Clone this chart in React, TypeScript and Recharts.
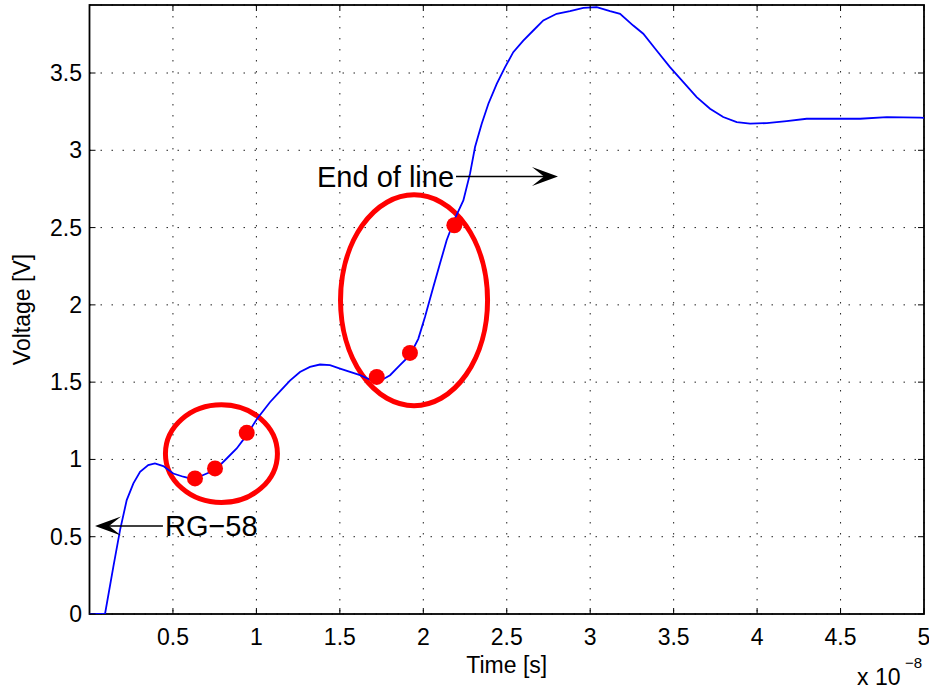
import { CartesianGrid, ComposedChart, Line, ReferenceArea, ReferenceDot, ReferenceLine, Scatter, XAxis, YAxis } from "recharts"

// time axis in units of 1e-8 s
const times = [
    0, 0.093, 0.143, 0.183, 0.223, 0.263, 0.303, 0.352, 0.392, 0.442, 0.502, 0.562, 0.622, 0.682, 0.752,
    0.822, 0.882, 0.942, 1.002, 1.081, 1.141, 1.201, 1.261, 1.321, 1.381, 1.441, 1.501, 1.561, 1.621, 1.681,
    1.741, 1.801, 1.86, 1.92, 1.97, 2.01, 2.06, 2.1, 2.14, 2.19, 2.24, 2.28, 2.31, 2.35, 2.39, 2.44, 2.49,
    2.539, 2.599, 2.659, 2.719, 2.799, 2.879, 2.959, 3.039, 3.119, 3.179, 3.258, 3.318, 3.398, 3.478, 3.558,
    3.638, 3.718, 3.797, 3.878, 3.958, 4.058, 4.177, 4.297, 4.457, 4.617, 4.777, 4.976, 5,
]
const volts = [
    0, 0, 0.306, 0.543, 0.737, 0.845, 0.92, 0.963, 0.974, 0.957, 0.909, 0.888, 0.871, 0.899, 0.931,
    1.006, 1.071, 1.157, 1.26, 1.37, 1.44, 1.51, 1.566, 1.599, 1.614, 1.61, 1.588, 1.566, 1.545, 1.517,
    1.508, 1.545, 1.61, 1.674, 1.78, 1.922, 2.116, 2.267, 2.418, 2.56, 2.676, 2.849, 3.021, 3.172, 3.301,
    3.43, 3.538, 3.635, 3.71, 3.775, 3.84, 3.883, 3.9, 3.922, 3.926, 3.9, 3.883, 3.807, 3.754, 3.646, 3.538,
    3.441, 3.344, 3.269, 3.215, 3.182, 3.172, 3.176, 3.189, 3.204, 3.204, 3.204, 3.215, 3.211, 3.21,
]

// highlighted samples
const dotTimes = [0.632, 0.752, 0.942, 1.721, 1.92, 2.186]
const dotVolts = [0.877, 0.942, 1.172, 1.534, 1.689, 2.515]

// ellipses as [t1, t2, v1, v2] bounding boxes
const ellipseBoxes = [
    [0.455, 1.126, 0.721, 1.354],
    [1.504, 2.385, 1.348, 2.712],
]

const xTicks = [0.5, 1, 1.5, 2, 2.5, 3, 3.5, 4, 4.5, 5]
const yTicks = [0, 0.5, 1, 1.5, 2, 2.5, 3, 3.5]
const xMax = 5
const yMax = 3.94

const FONT = "'Liberation Sans', Arial, Helvetica, sans-serif"
const W = 929
const H = 690
const M = { top: 5, right: 5, bottom: 0, left: 0 }
const Y_AXIS_W = 89.5
const X_AXIS_H = 76
const PLOT_W = W - M.left - M.right - Y_AXIS_W
const PLOT_H = H - M.top - M.bottom - X_AXIS_H
const X_MARGIN = 14.7
const Y_MARGIN = 7.5
const TICK = 6

const curve = times.map((t, i) => ({ t, v: volts[i] }))
const dots = dotTimes.map((t, i) => ({ t, v: dotVolts[i] }))

function XTick(props: any) {
    const { x, y, payload } = props
    const base = y - X_MARGIN
    return (
        <g>
            <line x1={x} x2={x} y1={base} y2={base - TICK} stroke="#000" />
            <line x1={x} x2={x} y1={base - PLOT_H} y2={base - PLOT_H + TICK} stroke="#000" />
            <text x={x} y={y} dy="0.71em" textAnchor="middle" fontSize={23} fontFamily={FONT} fill="#000">
                {payload.value}
            </text>
        </g>
    )
}

function YTick(props: any) {
    const { x, y, payload } = props
    const base = x + Y_MARGIN
    return (
        <g>
            <line x1={base} x2={base + TICK} y1={y} y2={y} stroke="#000" />
            <line x1={base + PLOT_W} x2={base + PLOT_W - TICK} y1={y} y2={y} stroke="#000" />
            <text x={x} y={y} dy="0.35em" textAnchor="end" fontSize={23} fontFamily={FONT} fill="#000">
                {payload.value}
            </text>
        </g>
    )
}

function Arrow(props: any) {
    const { x1, y1, x2, y2 } = props
    const dir = x2 > x1 ? 1 : -1
    const back = x2 - dir * 26
    const notch = x2 - dir * 14
    return (
        <g>
            <line x1={x1} y1={y1} x2={notch} y2={y2} stroke="#000" strokeWidth={1.5} />
            <polygon points={`${x2},${y2} ${back},${y2 - 9.5} ${notch},${y2} ${back},${y2 + 9.5}`} fill="#000" />
        </g>
    )
}

function Ellipse(props: any) {
    const { x, y, width, height } = props
    return (
        <ellipse cx={x + width / 2} cy={y + height / 2} rx={width / 2} ry={height / 2}
            fill="none" stroke="#ff0000" strokeWidth={5} />
    )
}

function Frame(props: any) {
    const { x, y, width, height } = props
    return <rect x={x} y={y} width={width} height={height} fill="none" stroke="#000" strokeWidth={1.8} />
}

const noteText = (label: string) => (props: any) => (
    <text x={props.cx} y={props.cy} dy="0.35em" fontSize={29} fontFamily={FONT} fill="#000">{label}</text>
)

function XLabel(props: any) {
    const { x, y, width } = props.viewBox
    return (
        <g fontFamily={FONT} fill="#000">
            <text x={x + width / 2} y={y + 59} fontSize={23} textAnchor="middle">Time [s]</text>
            <text x={x + width - 67} y={y + 71} fontSize={23}>x 10</text>
            <text x={x + width - 19} y={y + 54} fontSize={15}>−8</text>
        </g>
    )
}

function YLabel(props: any) {
    const { x, y, height } = props.viewBox
    const cx = x + 22
    const cy = y + height / 2
    return (
        <text x={cx} y={cy} dy="0.35em" fontSize={23} fontFamily={FONT} textAnchor="middle"
            transform={`rotate(-90, ${cx}, ${cy})`} fill="#000">Voltage [V]</text>
    )
}

export default function App() {
    return (
        <div style={{ position: "absolute", left: 0, top: 0, width: W, height: H, background: "#fff" }}>
            <ComposedChart width={W} height={H} data={curve} margin={M}>
                <CartesianGrid stroke="#222" strokeDasharray="1.5 9.5" />
                <XAxis dataKey="t" type="number" domain={[0, xMax]} ticks={xTicks} height={X_AXIS_H}
                    tickSize={0} tickMargin={X_MARGIN} tickLine={false} axisLine={false} tick={<XTick />}
                    allowDataOverflow interval={0} label={<XLabel />} />
                <YAxis type="number" domain={[0, yMax]} ticks={yTicks} width={Y_AXIS_W}
                    tickSize={0} tickMargin={Y_MARGIN} tickLine={false} axisLine={false} tick={<YTick />}
                    allowDataOverflow interval={0} label={<YLabel />} />
                <Line type="linear" dataKey="v" stroke="#0000ff" strokeWidth={1.8} dot={false}
                    isAnimationActive={false} />
                {ellipseBoxes.map((b, i) => (
                    <ReferenceArea key={i} x1={b[0]} x2={b[1]} y1={b[2]} y2={b[3]} shape={Ellipse} ifOverflow="visible" />
                ))}
                <ReferenceArea x1={0} x2={xMax} y1={0} y2={yMax} shape={Frame} ifOverflow="visible" />
                <Scatter data={dots} dataKey="v" isAnimationActive={false}
                    shape={(p: any) => <circle cx={p.cx} cy={p.cy} r={8} fill="#ff0000" />} />
                <ReferenceLine segment={[{ x: 2.196, y: 2.831 }, { x: 2.807, y: 2.831 }]} shape={Arrow} ifOverflow="visible" />
                <ReferenceLine segment={[{ x: 0.44, y: 0.569 }, { x: 0.033, y: 0.569 }]} shape={Arrow} ifOverflow="visible" />
                <ReferenceDot x={1.363} y={2.831} shape={noteText("End of line")} ifOverflow="visible" />
                <ReferenceDot x={0.452} y={0.569} shape={noteText("RG−58")} ifOverflow="visible" />
            </ComposedChart>
        </div>
    )
}
